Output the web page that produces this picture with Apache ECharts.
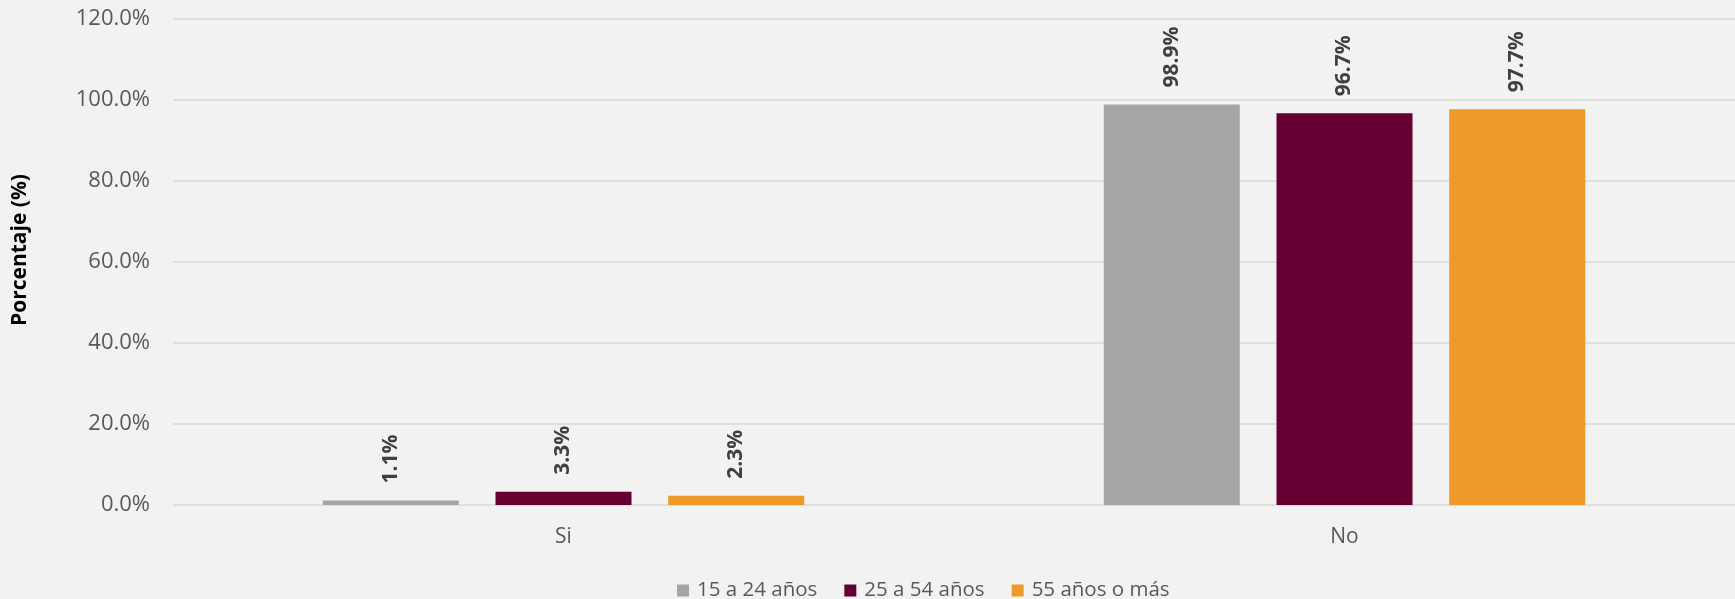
<!DOCTYPE html>
<html>
<head>
<meta charset="utf-8">
<script src="https://cdn.jsdelivr.net/npm/echarts@6/dist/echarts.min.js"></script>
<style>
html,body{margin:0;padding:0;background:#F2F2F2;}
#chart{width:1735px;height:599px;}
</style>
</head>
<body>
<div id="chart"></div>
<script>
const categories = ['Si', 'No'];
const seriesNames = ['15 a 24 años', '25 a 54 años', '55 años o más'];
const values15a24 = [1.1, 98.9];
const values25a54 = [3.3, 96.7];
const values55mas = [2.3, 97.7];
const yTicks = [0, 20, 40, 60, 80, 100, 120];
const yTitle = 'Porcentaje (%)';

const colors = ['#A5A5A5', '#660033', '#EE9A2A'];
const FONT = '"Open Sans", "Noto Sans", sans-serif';

const chart = echarts.init(document.getElementById('chart'), null, {renderer: 'canvas'});

function mkSeries(name, data, color) {
  return {
    name: name,
    type: 'bar',
    data: data,
    barWidth: 136,
    barGap: '27%',
    itemStyle: {color: color},
    label: {
      show: true,
      position: 'top',
      rotate: 90,
      align: 'left',
      verticalAlign: 'middle',
      distance: 17,
      formatter: p => p.value.toFixed(1) + '%',
      fontFamily: FONT,
      fontWeight: 'bold',
      fontSize: 21,
      color: '#404040'
    }
  };
}

chart.setOption({
  backgroundColor: '#F2F2F2',
  animation: false,
  color: colors,
  grid: {left: 173, right: -4, top: 19, bottom: 94},
  graphic: [{
    type: 'text',
    x: 20,
    y: 250,
    rotation: Math.PI / 2,
    style: {
      text: yTitle,
      fontFamily: FONT,
      fontSize: 21,
      fontWeight: 'bold',
      fill: '#000000',
      align: 'center',
      verticalAlign: 'middle'
    }
  }],
  legend: {
    left: 672,
    top: 575,
    itemWidth: 12,
    itemHeight: 12,
    itemGap: 27,
    icon: 'rect',
    data: seriesNames,
    textStyle: {fontFamily: FONT, fontSize: 20.5, color: '#595959', padding: [0, 0, 0, 3]}
  },
  xAxis: {
    type: 'category',
    data: categories,
    axisLine: {show: false},
    axisTick: {show: false},
    axisLabel: {fontFamily: FONT, fontSize: 21, color: '#595959', margin: 22}
  },
  yAxis: {
    type: 'value',
    min: yTicks[0],
    max: yTicks[yTicks.length - 1],
    interval: 20,
    axisLine: {show: false},
    axisTick: {show: false},
    axisLabel: {fontFamily: FONT, fontSize: 22, color: '#595959', margin: 23,
                formatter: v => v.toFixed(1) + '%'},
    splitLine: {lineStyle: {color: '#D9D9D9', width: 1.5}}
  },
  series: [
    mkSeries(seriesNames[0], values15a24, colors[0]),
    mkSeries(seriesNames[1], values25a54, colors[1]),
    mkSeries(seriesNames[2], values55mas, colors[2])
  ]
});
</script>
</body>
</html>
